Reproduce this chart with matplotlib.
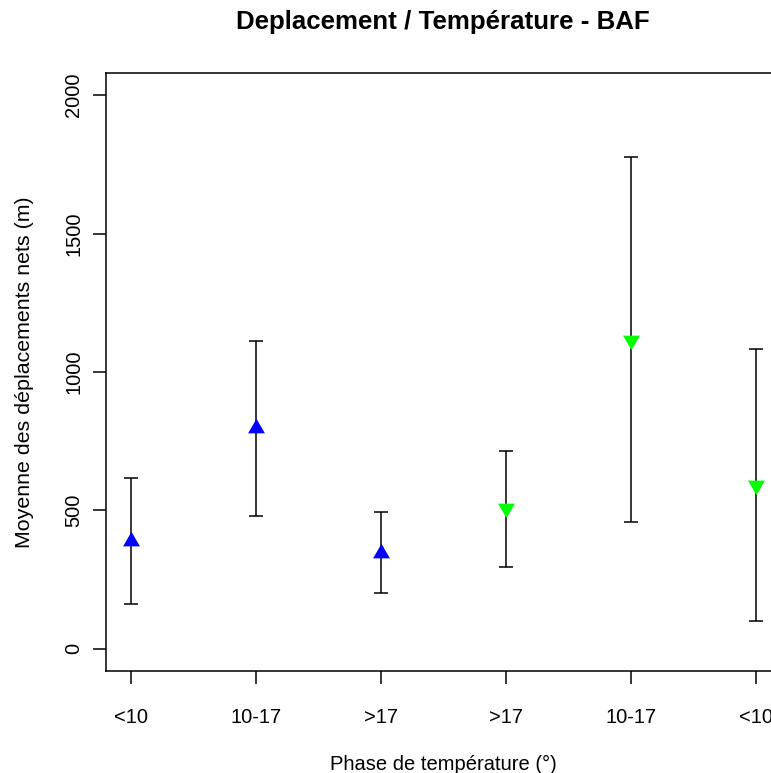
import matplotlib
matplotlib.use("Agg")
import matplotlib.pyplot as plt
import numpy as np

categories = ["<10", "10-17", ">17", ">17", "10-17", "<10"]
means = [390, 797, 346, 508, 1114, 592]
upper = [616, 1111, 495, 716, 1777, 1082]
lower = [163, 481, 201, 297, 457, 100]
groups = ["up", "up", "up", "down", "down", "down"]
colors = {"up": "#0000FF", "down": "#00FF00"}

plt.rcParams['font.family'] = ['Liberation Sans', 'DejaVu Sans']

W, H = 771, 773
fig = plt.figure(figsize=(W / 100, H / 100), dpi=100)
ax = fig.add_axes([106 / W, (H - 671) / H, (781 - 106) / W, (671 - 73) / H])

x = np.arange(1, len(categories) + 1)
m = np.array(means)
yerr = np.vstack([m - np.array(lower), np.array(upper) - m])
ax.errorbar(x, m, yerr=yerr, fmt='none', ecolor='black', elinewidth=1.1,
            capsize=5, capthick=1.1, zorder=2)

up_marker = [(0, 1.555), (1.347, -0.778), (-1.347, -0.778)]
down_marker = [(0, -1.555), (1.347, 0.778), (-1.347, 0.778)]
for xi, yi, g in zip(x, means, groups):
    ax.plot(xi, yi, linestyle='none',
            marker=up_marker if g == "up" else down_marker,
            markersize=14, color=colors[g], markeredgewidth=0, zorder=3)

ax.set_xlim(0.8, 6.2)
ax.set_ylim(-80, 2080)
ax.set_xticks(x)
ax.set_xticklabels(categories)
ax.set_yticks([0, 500, 1000, 1500, 2000])
ax.set_yticklabels(["0", "500", "1000", "1500", "2000"], rotation=90, va='center')

for s in ax.spines.values():
    s.set_linewidth(1.1)
ax.tick_params(axis='both', direction='out', length=9.5, width=1.1, labelsize=14.5)
ax.tick_params(axis='x', pad=17)
ax.tick_params(axis='y', pad=7)

ax.set_xlabel("Phase de température (°)", fontsize=14.5, labelpad=20)
ax.set_ylabel("Moyenne des déplacements nets (m)", fontsize=15.4, labelpad=22)
fig.text(443 / W, 1 - 22 / H, "Deplacement / Température - BAF", ha='center', va='center',
         fontsize=18.6, fontweight='bold')

fig.savefig("out.png", dpi=100)
